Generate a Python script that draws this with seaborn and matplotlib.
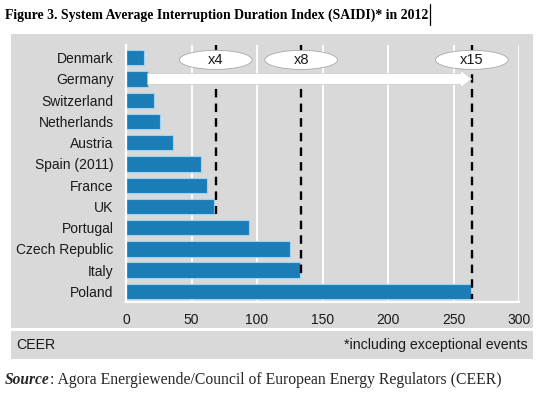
import seaborn as sns
import matplotlib.pyplot as plt
import pandas as pd
from matplotlib.patches import Rectangle, Ellipse
from matplotlib.lines import Line2D

# data (minutes)
countries = ['Denmark', 'Germany', 'Switzerland', 'Netherlands', 'Austria',
             'Spain (2011)', 'France', 'UK', 'Portugal', 'Czech Republic',
             'Italy', 'Poland']
saidi = [14, 16.5, 21.3, 26.1, 36, 57.4, 62, 67.5, 94, 125, 132.5, 263.5]

# "x4 / x8 / x15" markers relative to Germany
mult_labels = ['x4', 'x8', 'x15']
mult_values = [68.5, 133.7, 264]
mult_rows = ['UK', 'Italy', 'Poland']

df = pd.DataFrame({'Country': countries, 'SAIDI': saidi})

GRAY = '#d9d9d9'
BLUE = '#1c7db6'
W, H = 550, 394

sns.set_style('darkgrid', {'axes.facecolor': GRAY, 'grid.color': 'white'})
plt.rcParams['font.family'] = ['Liberation Sans', 'DejaVu Sans']

fig = plt.figure(figsize=(5.5, 3.94), dpi=100)

# gray panels behind chart and footer
fig.patches.append(Rectangle((10.5 / W, 1 - 328 / H), (533 - 10.5) / W, (328 - 34) / H,
                             transform=fig.transFigure, fc=GRAY, ec='none', zorder=-1))
fig.patches.append(Rectangle((10.5 / W, 1 - 359 / H), (533 - 10.5) / W, (359 - 331) / H,
                             transform=fig.transFigure, fc=GRAY, ec='none', zorder=-1))

ax = fig.add_axes([126 / W, 1 - 302 / H, (519 - 126) / W, (302 - 45) / H])
sns.barplot(data=df, x='SAIDI', y='Country', orient='h', color=BLUE,
            saturation=1, width=0.72, edgecolor='#9fd3f0', linewidth=0.8, ax=ax)

ax.set_xlim(0, 300)
ax.set_ylim(11.5, -0.6)
ax.set_xticks(range(0, 301, 50))
ax.grid(axis='x', color='white', linewidth=1.4)
ax.grid(axis='y', visible=False)
ax.set_xlabel('')
ax.set_ylabel('')
for side in ['top', 'right']:
    ax.spines[side].set_visible(False)
for side in ['left', 'bottom']:
    ax.spines[side].set_visible(True)
    ax.spines[side].set_color('white')
    ax.spines[side].set_linewidth(1.6)
ax.tick_params(axis='y', length=0, pad=9, labelsize=10, labelcolor='#1a1a1a')
ax.tick_params(axis='x', length=0, pad=8, labelsize=10, labelcolor='#1a1a1a')

# dashed multiplier lines, ellipse labels
for lab, val, row in zip(mult_labels, mult_values, mult_rows):
    r = countries.index(row)
    ax.plot([val, val], [-0.6, r + 0.36], color='black', lw=1.7,
            dashes=(3.6, 2.6), zorder=4, clip_on=False)
    ax.add_patch(Ellipse((val, 0.1), 55.5, 0.9, fc='white', ec='#a8a8a8',
                         lw=0.6, zorder=6, clip_on=False))
    ax.text(val, 0.1, lab, ha='center', va='center', fontsize=10.5,
            color='#1a1a1a', zorder=7)

# white arrow from Germany to Poland level
g = countries.index('Germany')
ax.annotate('', xy=(mult_values[-1], g), xytext=(saidi[g], g),
            arrowprops=dict(arrowstyle='simple,head_length=0.8,head_width=1.25,tail_width=0.8',
                            fc='white', ec='#c8c8c8', lw=0.5,
                            shrinkA=0, shrinkB=0, mutation_scale=10),
            zorder=5)

# footer texts
fig.text(16 / W, 1 - 345 / H, 'CEER', ha='left', va='center', fontsize=10.2, color='#1a1a1a')
fig.text(528 / W, 1 - 345 / H, '*including exceptional events', ha='right', va='center',
         fontsize=10.2, color='#1a1a1a')

# title and source (serif)
title = fig.text(5 / W, 1 - 15 / H,
                 'Figure 3. System Average Interruption Duration Index (SAIDI)* in 2012',
                 ha='left', va='center', fontsize=9.9, fontweight='bold',
                 family='Liberation Serif', color='black')
src = fig.text(5 / W, 1 - 380 / H, 'Source', ha='left', va='center', fontsize=11.2,
               fontweight='bold', style='italic', family='Liberation Serif')
fig.canvas.draw()
r = fig.canvas.get_renderer()
bb = src.get_window_extent(renderer=r)
fig.text(bb.x1 / W, 1 - 380 / H,
         ': Agora Energiewende/Council of European Energy Regulators (CEER)',
         ha='left', va='center', fontsize=11.3, family='Liberation Serif')
tb = title.get_window_extent(renderer=r)
fig.add_artist(Line2D([(tb.x1 + 2) / W] * 2, [1 - 25 / H, 1 - 4 / H],
                      transform=fig.transFigure, color='black', lw=0.9))

fig.savefig('out.png', dpi=100, facecolor='white')
